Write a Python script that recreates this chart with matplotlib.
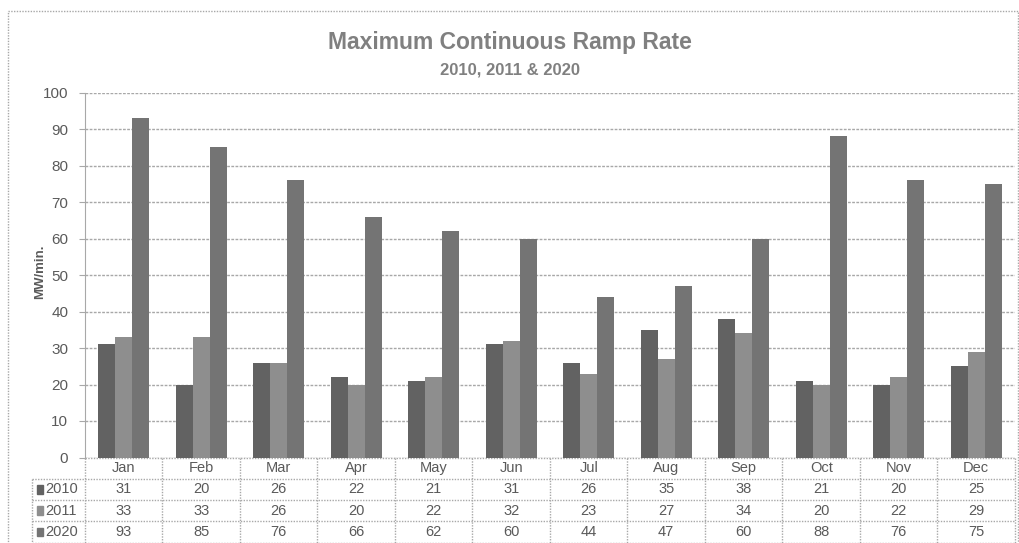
import matplotlib
matplotlib.use("Agg")
import matplotlib.pyplot as plt
from matplotlib.patches import Rectangle
import numpy as np

plt.rcParams['font.family'] = ['Liberation Sans', 'DejaVu Sans']

months = ["Jan", "Feb", "Mar", "Apr", "May", "Jun",
          "Jul", "Aug", "Sep", "Oct", "Nov", "Dec"]
series_names = ["2010", "2011", "2020"]
ramp_2010 = [31, 20, 26, 22, 21, 31, 26, 35, 38, 21, 20, 25]
ramp_2011 = [33, 33, 26, 20, 22, 32, 23, 27, 34, 20, 22, 29]
ramp_2020 = [93, 85, 76, 66, 62, 60, 44, 47, 60, 88, 76, 75]
y_ticks = [0, 10, 20, 30, 40, 50, 60, 70, 80, 90, 100]

series = [ramp_2010, ramp_2011, ramp_2020]
colors = ["#626262", "#8e8e8e", "#747474"]
text_gray = "#5a5a5a"
line_gray = "#a8a8a8"

W, H = 1020, 543
fig = plt.figure(figsize=(W / 100, H / 100), dpi=100)

# plot area in pixels
left, right, top, bottom = 85, 1015, 92.5, 457.5
ax = fig.add_axes([left / W, 1 - bottom / H, (right - left) / W, (bottom - top) / H])

x = np.arange(len(months))
bw = 0.22
for i, (vals, c) in enumerate(zip(series, colors)):
    ax.bar(x + (i - 1) * bw, vals, width=bw, color=c, edgecolor="none", zorder=3)

ax.set_xlim(-0.5, len(months) - 0.5)
ax.set_ylim(0, 100)
ax.set_yticks(y_ticks)
ax.set_yticklabels([str(t) for t in y_ticks], fontsize=11, color=text_gray)
ax.tick_params(axis="y", length=4, color=line_gray, pad=8)
ax.tick_params(axis="x", length=0, labelbottom=False)
ax.grid(axis="y", color=line_gray, linestyle=(0, (2, 1)), linewidth=1, zorder=0)
for s in ["top", "right", "bottom"]:
    ax.spines[s].set_visible(False)
ax.spines["left"].set_color(line_gray)
ax.spines["left"].set_linestyle((0, (1, 1)))

ax.set_ylabel("MW/min.", fontsize=9.5, fontweight="bold", color=text_gray)
ax.yaxis.set_label_coords((46 - left) / (right - left), (bottom - 272) / (bottom - top))

# data table below the plot (x in data units, y in axes fraction)
trans = ax.get_xaxis_transform()
row_h = 21.3 / (bottom - top)
n_rows = 4
label_left = -0.5 - (85 - 32) / ((right - left) / len(months))

def hline(y, x0, x1):
    ax.plot([x0, x1], [y, y], transform=trans, color=line_gray, lw=1,
            linestyle=(0, (1, 1)), clip_on=False)

def vline(xv, y0, y1):
    ax.plot([xv, xv], [y0, y1], transform=trans, color=line_gray, lw=1,
            linestyle=(0, (1, 1)), clip_on=False)

hline(0, -0.5, len(months) - 0.5)
for r in range(1, n_rows + 1):
    hline(-r * row_h, label_left, len(months) - 0.5)
for k in range(len(months) + 1):
    vline(k - 0.5, 0, -n_rows * row_h)
vline(label_left, -row_h, -n_rows * row_h)

for k, m in enumerate(months):
    ax.text(k, -0.5 * row_h, m, transform=trans, ha="center", va="center",
            fontsize=10.5, color=text_gray)
for r, (name, vals, c) in enumerate(zip(series_names, series, colors), start=1):
    yc = -(r + 0.5) * row_h
    for k, v in enumerate(vals):
        ax.text(k, yc, str(v), transform=trans, ha="center", va="center",
                fontsize=10.5, color=text_gray)
    ax.add_patch(Rectangle((label_left + 0.06, yc - 0.012), 0.085, 0.024,
                           transform=trans, color=c, clip_on=False))
    ax.text(label_left + 0.17, yc, name, transform=trans, ha="left", va="center",
            fontsize=10.5, color=text_gray)

# titles
fig.text(510 / W, 1 - 42 / H, "Maximum Continuous Ramp Rate", ha="center", va="center",
         fontsize=16.5, fontweight="bold", color="#808080")
fig.text(510 / W, 1 - 70 / H, "2010, 2011 & 2020", ha="center", va="center",
         fontsize=12, fontweight="bold", color="#808080")

# outer chart border
fig.add_artist(Rectangle((8 / W, -0.05), (1018 - 8) / W, 1.05 - 11 / H,
                         transform=fig.transFigure, fill=False, edgecolor=line_gray,
                         lw=1, linestyle=(0, (1, 1))))

fig.savefig("out.png", dpi=100, facecolor="white")
